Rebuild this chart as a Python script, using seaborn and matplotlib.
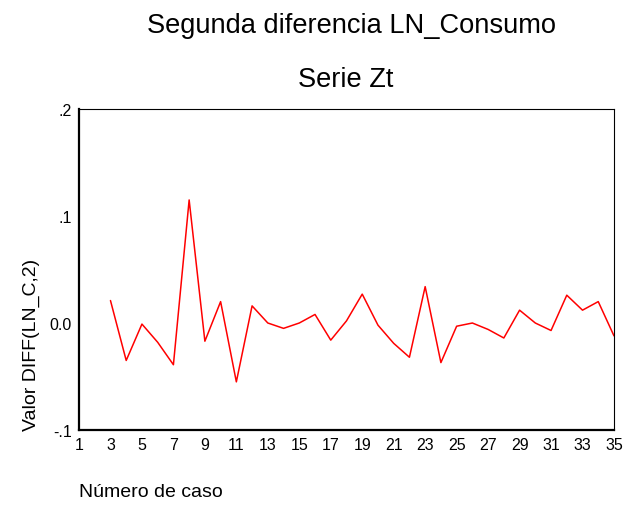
import pandas as pd
import numpy as np
import matplotlib.pyplot as plt
import seaborn as sns

# second difference of ln(consumo), cases 3..35 (cases 1-2 are missing)
caso = list(range(3, 36))
zt = [0.021, -0.035, -0.001, -0.018, -0.039, 0.115, -0.017, 0.020, -0.055,
      0.016, 0.000, -0.005, 0.000, 0.008, -0.016, 0.002, 0.027, -0.002,
      -0.019, -0.032, 0.034, -0.037, -0.003, 0.000, -0.006, -0.014, 0.012,
      0.000, -0.007, 0.026, 0.012, 0.020, -0.012]

x_ticks = list(range(1, 36, 2))
y_ticks = [-0.1, 0.0, 0.1, 0.2]
y_tick_labels = ['-.1', '0.0', '.1', '.2']

data = pd.DataFrame({'caso': caso, 'zt': zt})

sns.set_style("white")
plt.rcParams['font.family'] = ['Liberation Sans', 'DejaVu Sans']
plt.rcParams['text.color'] = 'black'
plt.rcParams['axes.labelcolor'] = 'black'

fig = plt.figure(figsize=(6.26, 5.06), dpi=100)
ax = fig.add_axes([0.1262, 0.1482, 0.8546, 0.6344])

sns.lineplot(data=data, x='caso', y='zt', color='red', linewidth=1.1, ax=ax)

ax.set_xlim(1, 35)
ax.set_ylim(-0.1, 0.2)
ax.set_xticks(x_ticks)
ax.set_yticks(y_ticks)
ax.set_yticklabels(y_tick_labels)

for side in ['left', 'bottom']:
    ax.spines[side].set_linewidth(1.6)
    ax.spines[side].set_color('black')
for side in ['top', 'right']:
    ax.spines[side].set_linewidth(0.8)
    ax.spines[side].set_color('black')

# SPSS-like little square ticks sitting on the axis line
ax.tick_params(axis='both', direction='inout', length=2.5, width=2.5,
               color='black', labelsize=11.5, labelcolor='black')
ax.tick_params(axis='x', pad=4)
ax.tick_params(axis='y', pad=4)

ax.set_xlabel('Número de caso', fontsize=14, loc='left', labelpad=22)
ax.set_ylabel('Valor DIFF(LN_C,2)', fontsize=14, loc='bottom', labelpad=7)

fig.text(0.5623, 0.9348, 'Segunda diferencia LN_Consumo', fontsize=19.6,
         ha='center', va='baseline', color='black')
fig.text(0.552, 0.828, 'Serie Zt', fontsize=19.6, ha='center',
         va='baseline', color='black')

plt.savefig('out.png', dpi=100)
